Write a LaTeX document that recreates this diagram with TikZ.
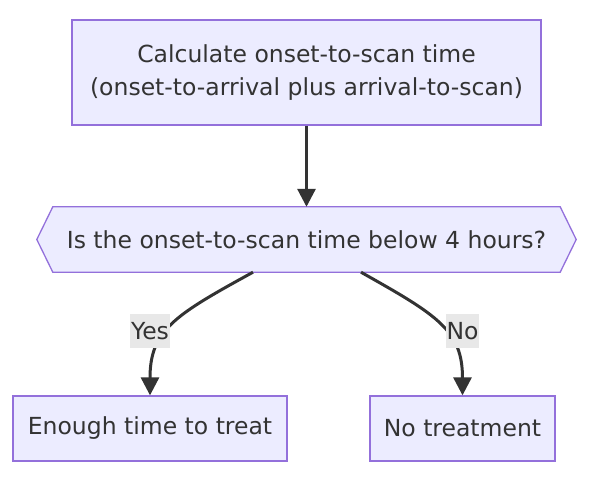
\documentclass[tikz,border=0pt]{standalone}
\usepackage{fontspec}
\setmainfont{DejaVu Sans}
\usetikzlibrary{arrows.meta,calc}
\definecolor{boxfill}{HTML}{ECECFF}
\definecolor{boxborder}{HTML}{9370DB}
\definecolor{txt}{HTML}{333333}
\definecolor{lblbg}{HTML}{E8E8E8}
\tikzset{
  mbox/.style={draw=boxborder, fill=boxfill, line width=1.3pt, text=txt, align=center,
    font=\fontsize{23.5}{33}\selectfont, inner sep=0pt},
  edge/.style={draw=txt, line width=3pt, -{Triangle[length=18pt,width=18pt]}},
  elabel/.style={fill=lblbg, text=txt, font=\fontsize{23.5}{28}\selectfont, inner sep=1pt,
    minimum height=34pt},
}
\begin{document}
\begin{tikzpicture}[x=1pt,y=-1pt]
\useasboundingbox (0,0) rectangle (589,481);
\node[mbox, minimum width=469pt, minimum height=105pt] (calc) at (306.5,72.5)
  {Calculate onset-to-scan time\\(onset-to-arrival plus arrival-to-scan)};
\node[text=txt, font=\fontsize{23.5}{28}\selectfont, minimum width=507pt, minimum height=65pt, inner sep=0pt] (q) at (306.5,239.5) {};
\draw[draw=boxborder, fill=boxfill, line width=1.3pt]
  (q.north west) -- (q.north east) -- ($(q.east)+(16,0)$) -- (q.south east) -- (q.south west) -- ($(q.west)+(-16,0)$) -- cycle;
\node[text=txt, font=\fontsize{23.5}{28}\selectfont] (qt) at (q.center) {Is the onset-to-scan time below 4 hours?};
\node[mbox, minimum width=274pt, minimum height=65pt] (yes) at (150,428.5) {Enough time to treat};
\node[mbox, minimum width=185pt, minimum height=65pt] (no) at (462.5,428.5) {No treatment};
\draw[edge] (calc.south) -- (q.north);
\coordinate (ls) at ($(q.south)+(-53.5,0)$);
\coordinate (rs) at ($(q.south)+(54.5,0)$);
\draw[edge] (ls) .. controls (175,315) and (150,330) .. (yes.north);
\draw[edge] (rs) .. controls (437,315) and (462.5,330) .. (no.north);
\node[elabel] (ly) at (150,331) {Yes};
\node[elabel] (ln) at (462.5,331) {No};
\end{tikzpicture}
\end{document}
